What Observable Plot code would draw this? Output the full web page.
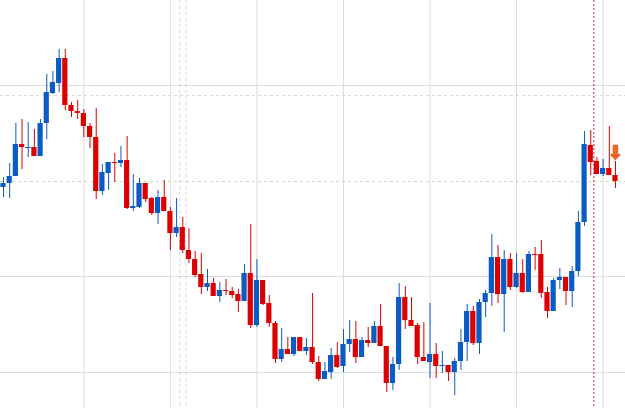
<!DOCTYPE html>
<html>
<head>
<meta charset="utf-8">
<script src="https://cdn.jsdelivr.net/npm/d3@7"></script>
<script src="https://cdn.jsdelivr.net/npm/@observablehq/plot@0.6"></script>
<style>
  html, body { margin: 0; padding: 0; background: #fff; }
  #chart svg { display: block; }
</style>
</head>
<body>
<div id="chart"></div>
<script>
// Candle values (price index units), candles 1..100
const opens = [221,225,232,264,260,261,252,285,315,325,350,303,297,295,282,271,217,235,246,245,248,200,201,225,210,195,211,197,175,181,158,149,134,121,125,112,118,117,114,107,135,83,128,105,85,49,59,54,71,57,61,46,29,36,53,42,64,69,51,68,65,82,62,25,44,111,88,83,51,46,54,42,43,36,47,66,97,65,106,115,151,114,149,121,135,116,154,154,116,97,128,131,117,137,186,263,247,234,240,233];
const closes = [225,232,264,261,261,252,285,316,326,350,303,297,295,282,271,217,236,246,245,248,200,202,225,209,195,211,197,175,181,158,149,133,121,125,112,118,117,113,107,135,83,128,104,85,49,59,54,71,57,61,46,29,37,53,41,64,69,51,68,65,82,62,25,44,111,88,82,51,47,54,42,43,36,47,66,97,65,106,115,151,114,149,121,135,116,154,153,115,97,128,131,117,137,186,264,246,234,240,233,227];
const highs = [231,245,285,289,286,279,289,334,337,359,359,306,308,299,285,300,244,246,255,262,272,234,230,225,211,218,228,201,210,191,180,157,155,139,130,126,129,121,119,144,184,149,128,113,87,80,71,71,71,70,115,52,46,60,66,79,88,87,71,81,87,104,62,51,125,122,111,85,86,105,65,57,43,50,79,104,102,109,118,174,163,158,155,155,149,157,161,168,121,130,140,131,142,197,277,278,251,249,282,247];
const lows = [211,210,232,239,251,252,252,269,314,316,298,291,289,271,260,209,213,218,226,241,199,197,200,206,193,184,197,158,171,155,145,131,114,117,112,106,113,110,96,107,80,81,103,81,45,46,54,52,57,53,44,27,29,29,40,36,56,45,51,61,65,62,16,18,38,79,82,44,47,30,30,35,27,13,38,47,63,54,91,102,105,76,118,120,115,116,138,110,90,97,119,103,101,132,182,233,234,232,233,220];

// Grid / annotation levels
const vGrid = [14, 28, 42, 56, 70, 84, 98];
const hGrid = [36, 132, 323];
const dashedGrayLevel = [313];
const dashedGreenLevel = [227];
const sessionMarks = [29.5, 30.5];
const currentMark = [96.5];
const signal = [{i: 100, v: 256, label: "⬇"}];

const candles = opens.map((o, k) => ({
  i: k + 1, open: o, close: closes[k], high: highs[k], low: lows[k],
  up: closes[k] >= o
}));

const BLUE = "#0a5bc4", RED = "#dc0000";

const chart = Plot.plot({
  width: 625, height: 408,
  marginTop: 0, marginBottom: 0, marginLeft: 0, marginRight: 0,
  x: {domain: [0.515, 101.62], axis: null},
  y: {domain: [0, 408], axis: null},
  style: {background: "#fff"},
  marks: [
    Plot.ruleY(hGrid, {stroke: "#dcdcdc", strokeWidth: 1}),
    Plot.ruleX(vGrid, {stroke: "#dcdcdc", strokeWidth: 1}),
    Plot.ruleY(dashedGrayLevel, {stroke: "#d8d8d8", strokeDasharray: "3,3"}),
    Plot.ruleY(dashedGreenLevel, {stroke: "#d2d9b8", strokeDasharray: "3,3"}),
    Plot.ruleX(sessionMarks, {stroke: "#d6d6d6", strokeDasharray: "3,3"}),
    Plot.ruleX(currentMark, {stroke: "#c8201e", strokeDasharray: "2,2"}),
    Plot.ruleX(candles, {x: "i", y1: "low", y2: "high", stroke: d => d.up ? BLUE : RED, strokeWidth: 1}),
    Plot.rect(candles, {
      x1: d => d.i - 0.42, x2: d => d.i + 0.42,
      y1: "open", y2: d => Math.abs(d.close - d.open) < 1 ? d.open + (d.up ? 1 : -1) : d.close,
      fill: d => d.up ? BLUE : RED
    }),
    Plot.text(signal, {x: "i", y: "v", text: "label", fill: "#ec6a1e", stroke: "#d0200f", strokeWidth: 0.8, fontSize: 19, fontFamily: "DejaVu Sans"})
  ]
});
document.getElementById("chart").appendChild(chart);
</script>
</body>
</html>
